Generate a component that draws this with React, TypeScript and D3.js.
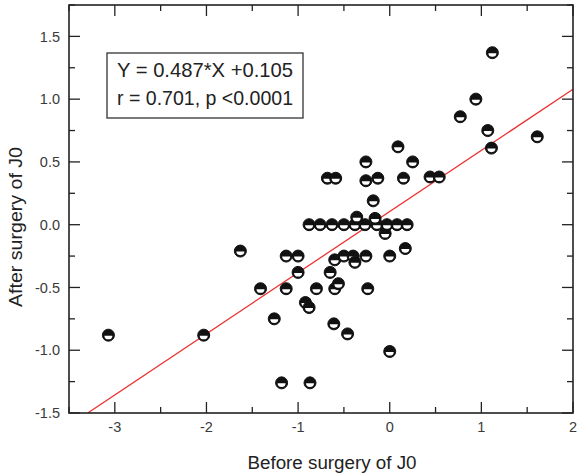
import React from "react";
import * as d3 from "d3";

const xValues: number[] = [
  -3.07, -2.03, -1.63, -1.41, -1.26, -1.18, -1.13, -1.13, -1.0, -1.0,
  -0.92, -0.88, -0.87, -0.8, -0.65, -0.61, -0.6, -0.56, -0.6, -0.5,
  -0.46, -0.4, -0.38, -0.26, -0.24, 0.0, 0.0, 0.17, -0.05,
  -0.88, -0.76, -0.63, -0.5, -0.38, -0.27, -0.14, -0.03, 0.08, 0.19,
  -0.36, -0.16, -0.18, -0.68, -0.59, -0.26, -0.13, 0.15, 0.44, 0.54,
  -0.26, 0.25, 0.09, 0.77, 0.94, 1.07, 1.11, 1.61, 1.12,
];
const yValues: number[] = [
  -0.88, -0.88, -0.21, -0.51, -0.75, -1.26, -0.25, -0.51, -0.25, -0.38,
  -0.62, -0.66, -1.26, -0.51, -0.38, -0.79, -0.51, -0.47, -0.28, -0.25,
  -0.87, -0.25, -0.3, -0.25, -0.51, -0.25, -1.01, -0.19, -0.07,
  0, 0, 0, 0, 0, 0, 0, 0, 0, 0,
  0.06, 0.05, 0.19, 0.37, 0.37, 0.35, 0.37, 0.37, 0.38, 0.38,
  0.5, 0.5, 0.62, 0.86, 1.0, 0.75, 0.61, 0.7, 1.37,
];
const xTicks: number[] = [-3, -2, -1, 0, 1, 2];
const yTicks: number[] = [-1.5, -1.0, -0.5, 0.0, 0.5, 1.0, 1.5];
const slope = 0.487;
const intercept = 0.105;
const eqLines: string[] = ["Y = 0.487*X +0.105", "r = 0.701, p <0.0001"];
const xTitle = "Before surgery of J0";
const yTitle = "After surgery of J0";

const L = 69, R = 573, T = 5, B = 413;

export default function App() {
  const x = d3.scaleLinear().domain([-3.5, 2]).range([L, R]);
  const y = d3.scaleLinear().domain([-1.5, 1.75]).range([B, T]);
  const xMinor = d3.range(-3.5, 2.01, 0.5);
  const yMinor = d3.range(-1.5, 1.76, 0.25);
  const font = "Arial, 'Liberation Sans', sans-serif";
  const x0 = (-1.5 - intercept) / slope;
  const lineX = [x0, 2];
  const pts = xValues.map((v, i) => [v, yValues[i]]);
  const r = 6;
  return (
    <svg width={581} height={474} style={{ position: "absolute", left: 0, top: 0 }}>
      <rect width={581} height={474} fill="#fff" />
      <defs>
        <clipPath id="plot">
          <rect x={L} y={T} width={R - L} height={B - T} />
        </clipPath>
      </defs>
      <line
        x1={x(lineX[0])} y1={y(slope * lineX[0] + intercept)}
        x2={x(lineX[1])} y2={y(slope * lineX[1] + intercept)}
        stroke="#ee3030" strokeWidth={1.3} clipPath="url(#plot)"
      />
      {pts.map((p, i) => {
        const cx = x(p[0]), cy = y(p[1]);
        return (
          <g key={i}>
            <circle cx={cx} cy={cy} r={r} fill="#111" stroke="#111" strokeWidth={1} />
            <path
              d={`M${cx - 4},${cy + 0.5} A4,3.6 0 0 0 ${cx + 4},${cy + 0.5} Z`}
              fill="#fff"
            />
          </g>
        );
      })}
      <rect x={L} y={T} width={R - L} height={B - T} fill="none" stroke="#222" strokeWidth={1.6} />
      {xMinor.map((v, i) => {
        const major = Math.abs(v - Math.round(v)) < 1e-6;
        const len = major ? 11 : 6;
        return (
          <g key={"xt" + i} stroke="#222" strokeWidth={1.3}>
            <line x1={x(v)} x2={x(v)} y1={B} y2={B - len} />
            <line x1={x(v)} x2={x(v)} y1={T} y2={T + len} />
          </g>
        );
      })}
      {yMinor.map((v, i) => {
        const major = Math.abs(v * 2 - Math.round(v * 2)) < 1e-6;
        const len = major ? 11 : 6;
        return (
          <g key={"yt" + i} stroke="#222" strokeWidth={1.3}>
            <line x1={L} x2={L + len} y1={y(v)} y2={y(v)} />
            <line x1={R} x2={R - len} y1={y(v)} y2={y(v)} />
          </g>
        );
      })}
      {xTicks.map((v) => (
        <text key={"xl" + v} x={x(v)} y={432} textAnchor="middle" fontFamily={font} fontSize={14.5} fill="#3a3a3a">
          {String(v)}
        </text>
      ))}
      {yTicks.map((v) => (
        <text key={"yl" + v} x={60} y={y(v)} dy="0.36em" textAnchor="end" fontFamily={font} fontSize={14.5} fill="#3a3a3a">
          {v.toFixed(1)}
        </text>
      ))}
      <text x={332} y={469} textAnchor="middle" fontFamily={font} fontSize={18} fill="#222"
        textLength={169} lengthAdjust="spacingAndGlyphs">
        {xTitle}
      </text>
      <text transform={`translate(22,227) rotate(-90)`} textAnchor="middle" fontFamily={font} fontSize={18} fill="#222"
        textLength={160} lengthAdjust="spacingAndGlyphs">
        {yTitle}
      </text>
      <rect x={107} y={53} width={196} height={65} fill="#fff" stroke="#333" strokeWidth={1.3} />
      {eqLines.map((s, i) => (
        <text key={s} x={117} y={76.5 + i * 28} fontFamily={font} fontSize={21} fill="#222"
          textLength={176} lengthAdjust="spacingAndGlyphs">
          {s}
        </text>
      ))}
    </svg>
  );
}
